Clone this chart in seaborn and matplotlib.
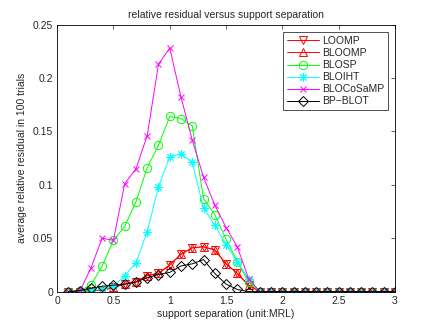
import numpy as np
import pandas as pd
import matplotlib
matplotlib.use("Agg")
import matplotlib.pyplot as plt
import seaborn as sns

sep = [round(0.1 * i, 1) for i in range(1, 31)]
zeros13 = [0.0] * 13

loomp = [0, 0, 0.001, 0.001, 0.004, 0.007, 0.009, 0.015, 0.017, 0.025, 0.035, 0.041,
         0.042, 0.039, 0.026, 0.017, 0.006] + zeros13
bloomp = [0, 0, 0.001, 0.001, 0.004, 0.007, 0.009, 0.015, 0.017, 0.025, 0.035, 0.041,
          0.042, 0.039, 0.026, 0.017, 0.006] + zeros13
blosp = [0, 0.001, 0.006, 0.024, 0.048, 0.061, 0.084, 0.116, 0.137, 0.164, 0.162, 0.155,
         0.087, 0.072, 0.049, 0.028, 0.009] + zeros13
bloiht = [0, 0, 0.001, 0.002, 0.005, 0.015, 0.027, 0.056, 0.098, 0.126, 0.129, 0.121,
          0.078, 0.062, 0.044, 0.028, 0.012] + zeros13
blocosamp = [0, 0, 0.022, 0.050, 0.048, 0.101, 0.115, 0.146, 0.213, 0.228, 0.182, 0.142,
             0.107, 0.081, 0.060, 0.042, 0.012] + zeros13
bpblot = [0, 0.001, 0.003, 0.005, 0.006, 0.007, 0.009, 0.013, 0.016, 0.018, 0.024, 0.026,
          0.030, 0.017, 0.007, 0.002, 0.0] + zeros13

series = [
    ("LOOMP", loomp, "#ff0000", "v"),
    ("BLOOMP", bloomp, "#ff0000", "^"),
    ("BLOSP", blosp, "#00ff00", "o"),
    ("BLOIHT", bloiht, "#00ffff", (8, 2, 0)),
    ("BLOCoSaMP", blocosamp, "#ff00ff", "x"),
    ("BP\u2212BLOT", bpblot, "#000000", "D"),
]

sns.set_style("white")
plt.rcParams['font.family'] = ['Liberation Sans', 'DejaVu Sans']
plt.rcParams['font.size'] = 7.5

fig = plt.figure(figsize=(4.36, 3.28), dpi=100)
ax = fig.add_axes([0.131, 0.111, 0.775, 0.814])

for name, vals, col, mk in series:
    df = pd.DataFrame({"x": sep, "y": vals})
    ms = 5 if mk in ("D", "x") else 6
    sns.lineplot(data=df, x="x", y="y", ax=ax, color=col, marker=mk, markersize=ms,
                 markerfacecolor="none", markeredgecolor=col, markeredgewidth=0.7,
                 linewidth=0.7, label=name)

ax.set_xlim(0, 3)
ax.set_ylim(0, 0.25)
ax.set_xticks([0, 0.5, 1, 1.5, 2, 2.5, 3])
ax.set_xticklabels(["0", "0.5", "1", "1.5", "2", "2.5", "3"])
ax.set_yticks([0, 0.05, 0.1, 0.15, 0.2, 0.25])
ax.set_yticklabels(["0", "0.05", "0.1", "0.15", "0.2", "0.25"])
ax.tick_params(direction="in", top=True, right=True, length=3, width=0.5,
               labelsize=7.5, pad=3)
for s in ax.spines.values():
    s.set_linewidth(0.6)
    s.set_color("black")

ax.set_xlabel("support separation (unit:MRL)", fontsize=7.5, labelpad=2)
ax.set_ylabel("average relative residual in 100 trials", fontsize=7.5, labelpad=4)
ax.set_title("relative residual versus support separation", fontsize=7.5, pad=5)

leg = ax.legend(loc="upper right", bbox_to_anchor=(0.979, 0.971), borderaxespad=0,
                fontsize=7.5, frameon=True, fancybox=False, edgecolor="black",
                handlelength=3.1, borderpad=0.35, labelspacing=0.2, handletextpad=0.3)
leg.get_frame().set_linewidth(0.6)

fig.savefig("out.png", dpi=100)
